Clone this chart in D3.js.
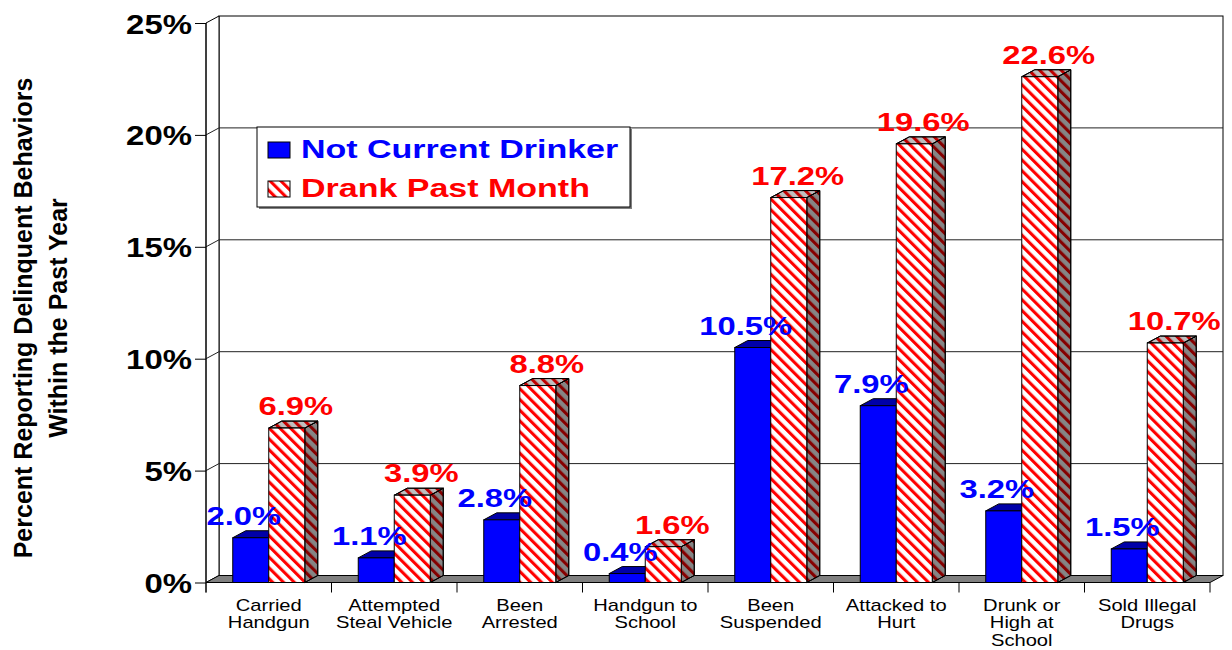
<!DOCTYPE html>
<html>
<head>
<meta charset="utf-8">
<script src="https://cdn.jsdelivr.net/npm/d3@7"></script>
<style>
  body { margin: 0; background: #fff; }
  svg { display: block; font-family: Arial, "Liberation Sans", sans-serif; }
</style>
</head>
<body>
<script>
// chart data
const categories = [
  "Carried\nHandgun",
  "Attempted\nSteal Vehicle",
  "Been\nArrested",
  "Handgun to\nSchool",
  "Been\nSuspended",
  "Attacked to\nHurt",
  "Drunk or\nHigh at\nSchool",
  "Sold Illegal\nDrugs",
];
const notCurrentDrinker = [2.0, 1.1, 2.8, 0.4, 10.5, 7.9, 3.2, 1.5];
const drankPastMonth = [6.9, 3.9, 8.8, 1.6, 17.2, 19.6, 22.6, 10.7];
const seriesNames = ["Not Current Drinker", "Drank Past Month"];
const yTicks = [0, 5, 10, 15, 20, 25];
const yTitle = ["Percent Reporting Delinquent Behaviors", "Within the Past Year"];

const width = 1232;
const height = 650;
const DX = 13; // 3d depth
const DY = -7;

const svg = d3.select("body").append("svg").attr("width", width).attr("height", height);

const defs = svg.append("defs");
const stripe = defs
  .append("pattern")
  .attr("id", "stripe")
  .attr("patternUnits", "userSpaceOnUse")
  .attr("width", 7.6)
  .attr("height", 7.6)
  .attr("patternTransform", "rotate(-45)");
stripe.append("rect").attr("width", 7.6).attr("height", 7.6).attr("fill", "#fff");
stripe.append("rect").attr("width", 3.1).attr("height", 7.6).attr("fill", "#ff0000");

const x0 = d3.scaleBand().domain(categories).range([206, 1210]);
const x1 = d3.scaleBand().domain(seriesNames).range([0, x0.bandwidth()]).paddingOuter(0.743);
const y = d3.scaleLinear().domain([0, 25]).range([582.5, 23]);

const left = x0.range()[0];
const right = x0.range()[1];
const y0 = y(0);
const yTop = y(25);

// walls
svg
  .append("rect")
  .attr("x", left + DX)
  .attr("y", yTop + DY)
  .attr("width", right - left)
  .attr("height", y0 - yTop)
  .attr("fill", "#fff")
  .attr("stroke", "#000");

svg
  .append("polygon")
  .attr("points", [[left, yTop], [left + DX, yTop + DY], [left + DX, y0 + DY], [left, y0]].join(" "))
  .attr("fill", "#fff")
  .attr("stroke", "#000");

// gridlines on back wall and side wall
const grid = svg.append("g").attr("stroke", "#222").attr("stroke-width", 1);
grid
  .selectAll(".hgrid")
  .data(yTicks.filter((d) => d > 0 && d < 25))
  .enter()
  .append("line")
  .attr("x1", left + DX)
  .attr("x2", right + DX)
  .attr("y1", (d) => y(d) + DY)
  .attr("y2", (d) => y(d) + DY);
grid
  .selectAll(".dgrid")
  .data(yTicks.filter((d) => d > 0 && d < 25))
  .enter()
  .append("line")
  .attr("x1", left)
  .attr("x2", left + DX)
  .attr("y1", (d) => y(d))
  .attr("y2", (d) => y(d) + DY);

// floor
svg
  .append("polygon")
  .attr("points", [[left, y0], [right, y0], [right + DX, y0 + DY], [left + DX, y0 + DY]].join(" "))
  .attr("fill", "#808080")
  .attr("stroke", "#000");

// y axis
const yAxis = svg
  .append("g")
  .attr("transform", `translate(${left},0)`)
  .call(d3.axisLeft(y).tickValues(yTicks).tickSize(11).tickFormat((d) => d + "%"));
yAxis.select(".domain").remove();
yAxis.selectAll(".tick line").attr("stroke", "#000");
yAxis
  .selectAll(".tick text")
  .attr("x", 0)
  .attr("dy", "0.37em")
  .attr("transform", "translate(-14,0) scale(1.22,1)")
  .attr("fill", "#000")
  .style("font-size", "27px")
  .style("font-weight", "bold")
  .style("font-family", "Arial, 'Liberation Sans', sans-serif");

svg
  .append("line")
  .attr("x1", left)
  .attr("x2", left)
  .attr("y1", yTop)
  .attr("y2", y0 + 10)
  .attr("stroke", "#000");

// x axis line and boundary ticks
svg
  .append("line")
  .attr("x1", left)
  .attr("x2", right)
  .attr("y1", y0)
  .attr("y2", y0)
  .attr("stroke", "#000");
svg
  .selectAll(".xtick")
  .data(categories.map((c) => x0(c)).concat([right]))
  .enter()
  .append("line")
  .attr("x1", (d) => d)
  .attr("x2", (d) => d)
  .attr("y1", y0)
  .attr("y2", y0 + 10)
  .attr("stroke", "#000");

const xAxis = svg
  .append("g")
  .attr("transform", `translate(0,${y0})`)
  .call(d3.axisBottom(x0).tickSize(0));
xAxis.select(".domain").remove();
xAxis.selectAll(".tick text").remove();
xAxis
  .selectAll(".tick")
  .append("text")
  .attr("transform", "translate(0,28.5) scale(1.26,1)")
  .attr("text-anchor", "middle")
  .attr("fill", "#000")
  .style("font-size", "16px")
  .style("font-family", "Arial, 'Liberation Sans', sans-serif")
  .selectAll("tspan")
  .data((d) => d.split("\n"))
  .enter()
  .append("tspan")
  .attr("x", 0)
  .attr("dy", (d, i) => (i === 0 ? 0 : 17.5))
  .text((d) => d);

// bars
const rows = [];
categories.forEach((c, i) => {
  rows.push({ cat: c, series: seriesNames[0], value: notCurrentDrinker[i] });
  rows.push({ cat: c, series: seriesNames[1], value: drankPastMonth[i] });
});

const bw = x1.bandwidth();
const bars = svg
  .selectAll(".bar")
  .data(rows)
  .enter()
  .append("g")
  .attr("class", "bar")
  .attr("stroke", "#000")
  .attr("stroke-width", 1);

const isBlue = (d) => d.series === seriesNames[0];
const bx = (d) => x0(d.cat) + x1(d.series);
const sidePoints = (d) => {
  const x = bx(d) + bw;
  const t = y(d.value);
  return [[x, t], [x + DX, t + DY], [x + DX, y0 + DY], [x, y0]].join(" ");
};
const topPoints = (d) => {
  const x = bx(d);
  const t = y(d.value);
  return [[x, t], [x + DX, t + DY], [x + bw + DX, t + DY], [x + bw, t]].join(" ");
};

// side face
bars
  .append("polygon")
  .attr("points", sidePoints)
  .attr("fill", (d) => (isBlue(d) ? "#000080" : "url(#stripe)"));
bars
  .filter((d) => !isBlue(d))
  .append("polygon")
  .attr("points", sidePoints)
  .attr("fill", "#000")
  .attr("fill-opacity", 0.48);

// top face
bars
  .append("polygon")
  .attr("points", topPoints)
  .attr("fill", (d) => (isBlue(d) ? "#0000a8" : "url(#stripe)"));
bars
  .filter((d) => !isBlue(d))
  .append("polygon")
  .attr("points", topPoints)
  .attr("fill", "#000")
  .attr("fill-opacity", 0.25);

// front face
bars
  .append("rect")
  .attr("x", bx)
  .attr("y", (d) => y(d.value))
  .attr("width", bw)
  .attr("height", (d) => y0 - y(d.value))
  .attr("fill", (d) => (isBlue(d) ? "#0000ff" : "url(#stripe)"));

// value labels
svg
  .selectAll(".value")
  .data(rows)
  .enter()
  .append("text")
  .attr("class", "value")
  .attr("text-anchor", "middle")
  .attr("transform", (d) => {
    const cx = bx(d) + bw / 2 + (isBlue(d) ? -7 : 9);
    return `translate(${cx},${y(d.value) - 13}) scale(1.26,1)`;
  })
  .attr("fill", (d) => (isBlue(d) ? "#0000ff" : "#ff0000"))
  .style("font-size", "26px")
  .style("font-weight", "bold")
  .text((d) => d.value.toFixed(1) + "%");

// legend
const legend = svg.append("g").attr("transform", "translate(257,127)");
legend
  .append("rect")
  .attr("x", 2)
  .attr("y", 2)
  .attr("width", 373)
  .attr("height", 80)
  .attr("fill", "#808080");
legend
  .append("rect")
  .attr("width", 373)
  .attr("height", 80)
  .attr("fill", "#fff")
  .attr("stroke", "#000");
const legendItems = legend
  .selectAll(".item")
  .data(seriesNames)
  .enter()
  .append("g")
  .attr("transform", (d, i) => `translate(11,${15 + i * 39})`);
legendItems
  .append("rect")
  .attr("width", 22)
  .attr("height", 16)
  .attr("fill", (d, i) => (i === 0 ? "#0000ff" : "url(#stripe)"))
  .attr("stroke", "#000");
legendItems
  .append("text")
  .attr("transform", "translate(33,16) scale(1.36,1)")
  .attr("fill", (d, i) => (i === 0 ? "#0000ff" : "#ff0000"))
  .style("font-size", "25px")
  .style("font-weight", "bold")
  .text((d) => d);

// y axis title
svg
  .selectAll(".ytitle")
  .data(yTitle)
  .enter()
  .append("text")
  .attr("class", "ytitle")
  .attr("transform", (d, i) => `translate(${32 + i * 35},318) rotate(-90)`)
  .attr("text-anchor", "middle")
  .attr("fill", "#000")
  .style("font-size", "25px")
  .style("font-weight", "bold")
  .text((d) => d);
</script>
</body>
</html>
